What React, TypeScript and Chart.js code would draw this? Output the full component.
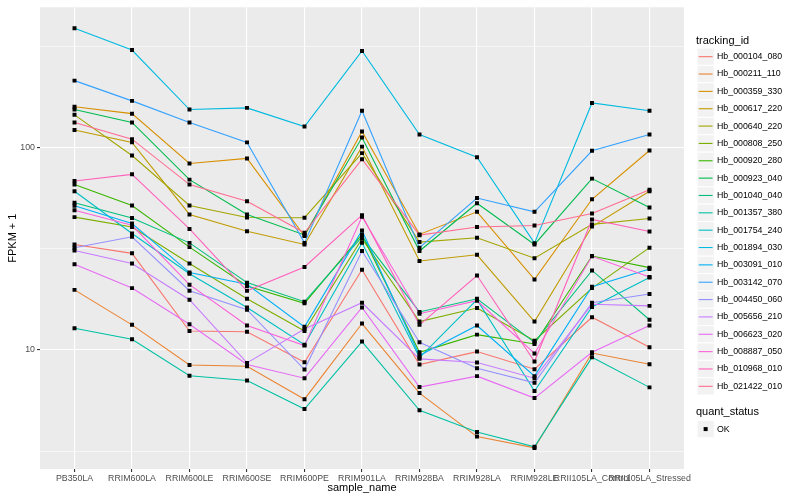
import React, { useEffect, useRef } from "react";
import { Chart, registerables } from "chart.js";

Chart.register(...registerables);

const FONT = "'Liberation Sans', Arial, Helvetica, sans-serif";
Chart.defaults.font.family = FONT;

// ---------- data ----------
const sampleNames = [
  "PB350LA",
  "RRIM600LA",
  "RRIM600LE",
  "RRIM600SE",
  "RRIM600PE",
  "RRIM901LA",
  "RRIM928BA",
  "RRIM928LA",
  "RRIM928LE",
  "RRII105LA_Control",
  "RRII105LA_Stressed",
];

const trackingIds = [
  "Hb_000104_080",
  "Hb_000211_110",
  "Hb_000359_330",
  "Hb_000617_220",
  "Hb_000640_220",
  "Hb_000808_250",
  "Hb_000920_280",
  "Hb_000923_040",
  "Hb_001040_040",
  "Hb_001357_380",
  "Hb_001754_240",
  "Hb_001894_030",
  "Hb_003091_010",
  "Hb_003142_070",
  "Hb_004450_060",
  "Hb_005656_210",
  "Hb_006623_020",
  "Hb_008887_050",
  "Hb_010968_010",
  "Hb_021422_010",
];

const seriesColors = [
  "#F8766D", "#EA8331", "#D89000", "#C09B00", "#A3A500",
  "#7CAE00", "#39B600", "#00BB4E", "#00BF7D", "#00C1A3",
  "#00BFC4", "#00BAE0", "#00B0F6", "#35A2FF", "#9590FF",
  "#C77CFF", "#E76BF3", "#FA62DB", "#FF62BC", "#FF6C91",
];

const quantStatus = ["OK"];

const yMajorTicks = [10, 100];
const yMinorTicks = [3.1623, 31.623, 316.23];
const yRange = [2.58, 493];

// FPKM + 1 per sample (same order as sampleNames)
const hb_000104_080 = [33.2, 30.0, 12.4, 12.3, 8.69, 24.9, 8.47, 9.81, 8.03, 14.5, 10.3];
const hb_000211_110 = [19.8, 13.3, 8.42, 8.31, 5.71, 13.5, 6.12, 3.73, 3.28, 9.65, 8.5];
const hb_000359_330 = [159, 147, 83.4, 88.3, 36.5, 120, 37.2, 48.1, 22.3, 55.5, 96.7];
const hb_000617_220 = [122, 106, 46.7, 38.6, 33.2, 101, 27.5, 29.5, 13.8, 40.7, 60.8];
const hb_000640_220 = [145, 91.3, 51.7, 45.1, 45.0, 93.8, 34.1, 35.8, 28.4, 41.7, 44.6];
const hb_000808_250 = [45.3, 40.5, 26.7, 17.9, 12.4, 35.4, 13.8, 16.1, 11.1, 20.2, 32.0];
const hb_000920_280 = [65.6, 51.7, 32.2, 20.7, 17.0, 37.2, 9.73, 11.9, 10.7, 29.1, 25.5];
const hb_000923_040 = [154, 133, 69.4, 46.7, 37.0, 112, 30.8, 53.0, 33.2, 70.2, 50.5];
const hb_001040_040 = [53.3, 44.8, 33.8, 21.5, 17.3, 36.2, 15.4, 17.9, 10.9, 24.7, 14.1];
const hb_001357_380 = [12.8, 11.3, 7.45, 7.06, 5.1, 11.0, 5.03, 3.93, 3.32, 9.19, 6.53];
const hb_001754_240 = [60.8, 37.6, 23.8, 16.2, 10.6, 33.8, 9.17, 17.7, 6.26, 16.3, 22.8];
const hb_001894_030 = [388, 303, 154, 157, 127, 300, 116, 89.6, 33.7, 166, 152];
const hb_003091_010 = [51.6, 42.1, 24.1, 21.1, 13.0, 38.9, 9.38, 13.2, 7.42, 20.5, 25.1];
const hb_003142_070 = [214, 170, 133, 106, 33.8, 152, 32.0, 56.3, 48.1, 96.3, 116];
const hb_004450_060 = [32.0, 36.2, 19.6, 15.8, 8.0, 30.8, 10.9, 8.12, 6.88, 17.1, 18.9];
const hb_005656_210 = [31.0, 26.7, 17.7, 8.63, 12.7, 17.1, 9.03, 8.66, 7.25, 16.8, 16.5];
const hb_006623_020 = [26.5, 20.2, 13.4, 8.47, 7.25, 16.2, 6.55, 7.42, 5.78, 9.73, 13.2];
const hb_008887_050 = [49.0, 41.3, 21.0, 13.2, 10.5, 45.5, 15.1, 17.5, 9.6, 29.0, 22.9];
const hb_010968_010 = [68.3, 73.7, 39.6, 19.6, 25.7, 46.3, 13.3, 23.3, 8.76, 44.1, 38.5];
const hb_021422_010 = [133, 110, 65.6, 54.3, 37.9, 87.6, 36.9, 40.5, 41.2, 47.2, 61.9];

const seriesValues = [
  hb_000104_080, hb_000211_110, hb_000359_330, hb_000617_220, hb_000640_220,
  hb_000808_250, hb_000920_280, hb_000923_040, hb_001040_040, hb_001357_380,
  hb_001754_240, hb_001894_030, hb_003091_010, hb_003142_070, hb_004450_060,
  hb_005656_210, hb_006623_020, hb_008887_050, hb_010968_010, hb_021422_010,
];

// ---------- plugins ----------
const panelBackground = {
  id: "panelBackground",
  beforeDraw(chart: any) {
    const { ctx, chartArea } = chart;
    ctx.save();
    ctx.fillStyle = "#EBEBEB";
    ctx.fillRect(
      chartArea.left,
      chartArea.top,
      chartArea.right - chartArea.left,
      chartArea.bottom - chartArea.top
    );
    ctx.restore();
  },
};

const ggLegend = {
  id: "ggLegend",
  afterDraw(chart: any) {
    const ctx = chart.ctx as CanvasRenderingContext2D;
    ctx.save();
    ctx.textAlign = "left";
    ctx.textBaseline = "middle";
    const keyX = 697;
    const keyW = 17.3;
    const rowH = 17.35;
    const firstTop = 48;

    ctx.fillStyle = "#000000";
    ctx.font = `11px ${FONT}`;
    ctx.fillText("tracking_id", 696, 40.5);

    trackingIds.forEach((id, i) => {
      const top = firstTop + rowH * i;
      const cy = top + rowH / 2;
      ctx.fillStyle = "#F2F2F2";
      ctx.fillRect(keyX, top, keyW, rowH);
      ctx.strokeStyle = "#FFFFFF";
      ctx.lineWidth = 1;
      ctx.strokeRect(keyX, top, keyW, rowH);
      ctx.strokeStyle = seriesColors[i];
      ctx.lineWidth = 1.1;
      ctx.beginPath();
      ctx.moveTo(keyX + 1.7, cy);
      ctx.lineTo(keyX + keyW - 1.7, cy);
      ctx.stroke();
      ctx.fillStyle = "#000000";
      ctx.font = `8.8px ${FONT}`;
      ctx.fillText(id, 717, cy);
    });

    ctx.fillStyle = "#000000";
    ctx.font = `11px ${FONT}`;
    ctx.fillText("quant_status", 696, 412.3);

    quantStatus.forEach((status, i) => {
      const top = 420.4 + rowH * i;
      const cy = top + rowH / 2;
      ctx.fillStyle = "#F2F2F2";
      ctx.fillRect(keyX, top, keyW, rowH);
      ctx.strokeStyle = "#FFFFFF";
      ctx.lineWidth = 1;
      ctx.strokeRect(keyX, top, keyW, rowH);
      ctx.fillStyle = "#000000";
      ctx.fillRect(keyX + keyW / 2 - 2, cy - 2, 4, 4);
      ctx.font = `8.8px ${FONT}`;
      ctx.fillText(status, 717, cy);
    });
    ctx.restore();
  },
};

export default function App() {
  const ref = useRef<HTMLCanvasElement | null>(null);

  useEffect(() => {
    document.body.style.margin = "0";
    if (!ref.current) return;

    const lineSets: any[] = seriesValues.map((vals, i) => ({
      type: "line",
      label: trackingIds[i],
      data: vals.map((v, j) => ({ x: j, y: v })),
      borderColor: seriesColors[i],
      backgroundColor: seriesColors[i],
      borderWidth: 1.1,
      pointRadius: 0,
      pointHoverRadius: 0,
      fill: false,
      tension: 0,
      order: 20 - i,
    }));

    const pointSet: any = {
      type: "line",
      label: quantStatus[0],
      data: seriesValues.flatMap((vals) => vals.map((v, j) => ({ x: j, y: v }))),
      showLine: false,
      pointStyle: "rect",
      pointRadius: 2.8,
      pointHoverRadius: 2.8,
      pointBackgroundColor: "#000000",
      pointBorderColor: "#000000",
      pointBorderWidth: 0,
      order: 0,
    };

    const isMajor = (c: any) => !!(c && c.tick && yMajorTicks.includes(c.tick.value));

    const chart = new Chart(ref.current, {
      type: "line",
      data: { datasets: [...lineSets, pointSet] },
      options: {
        responsive: false,
        maintainAspectRatio: false,
        animation: false,
        events: [],
        layout: { padding: { left: 0, right: 116, top: 5, bottom: 0 } },
        plugins: {
          legend: { display: false },
          tooltip: { enabled: false },
        },
        scales: {
          x: {
            type: "linear",
            min: -0.6,
            max: sampleNames.length - 1 + 0.6,
            afterBuildTicks: (s: any) => {
              s.ticks = sampleNames.map((_, i) => ({ value: i }));
            },
            afterFit: (s: any) => {
              s.height = 31;
            },
            ticks: {
              autoSkip: false,
              maxRotation: 0,
              minRotation: 0,
              padding: 1,
              color: "#4D4D4D",
              font: { size: 8.8, family: FONT },
              callback: (v: any) => sampleNames[v as number] ?? "",
            },
            grid: {
              color: "#FFFFFF",
              lineWidth: 1.1,
              tickColor: "#333333",
              tickLength: 3,
              drawTicks: true,
            },
            border: { display: false },
            title: {
              display: true,
              text: "sample_name",
              color: "#000000",
              font: { size: 11, family: FONT },
              padding: { top: 0, bottom: 5 },
            },
          },
          y: {
            type: "logarithmic",
            min: yRange[0],
            max: yRange[1],
            afterBuildTicks: (s: any) => {
              s.ticks = [...yMinorTicks, ...yMajorTicks]
                .sort((a, b) => a - b)
                .map((v) => ({ value: v }));
            },
            afterFit: (s: any) => {
              s.width = 40;
            },
            ticks: {
              padding: 2,
              color: "#4D4D4D",
              font: { size: 8.8, family: FONT },
              callback: (v: any) => (yMajorTicks.includes(v as number) ? String(v) : ""),
            },
            grid: {
              color: "#FFFFFF",
              lineWidth: (c: any) => (isMajor(c) ? 1.1 : 0.55),
              tickColor: (c: any) => (isMajor(c) ? "#333333" : "rgba(0,0,0,0)"),
              tickLength: 3,
              drawTicks: true,
            },
            border: { display: false },
            title: {
              display: true,
              text: "FPKM + 1",
              color: "#000000",
              font: { size: 11, family: FONT },
              padding: { top: 6, bottom: 0 },
            },
          },
        },
      } as any,
      plugins: [panelBackground, ggLegend],
    } as any);

    return () => chart.destroy();
  }, []);

  return (
    <div style={{ width: 800, height: 500, position: "relative" }}>
      <canvas
        ref={ref}
        width={800}
        height={500}
        style={{ display: "block", width: 800, height: 500 }}
      />
    </div>
  );
}
